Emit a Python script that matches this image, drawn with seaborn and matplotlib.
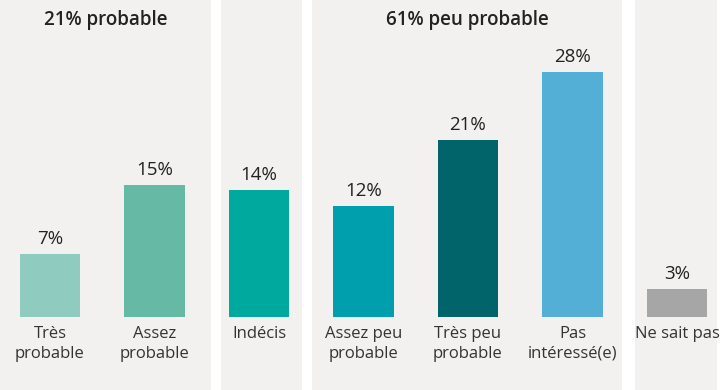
import matplotlib
import matplotlib.pyplot as plt
import pandas as pd
import seaborn as sns

matplotlib.use("Agg")

categories = ["Très\nprobable", "Assez\nprobable", "Indécis", "Assez peu\nprobable",
              "Très peu\nprobable", "Pas\nintéressé(e)", "Ne sait pas"]
heights = [7.2, 15.1, 14.5, 12.7, 20.2, 28.0, 3.2]
value_labels = ["7%", "15%", "14%", "12%", "21%", "28%", "3%"]
colors = ["#8fcbbf", "#66b9a5", "#00a99e", "#009fae", "#00646a", "#53afd5", "#a6a6a6"]

groups = ["21% probable", None, "61% peu probable", None]
# background panel edges, in pixels from the left
panel_px = [(0, 211), (221, 302), (312, 622), (635, 717)]

df = pd.DataFrame({"cat": categories, "val": heights})

sns.set_theme(style="white")
plt.rcParams["font.family"] = ["Open Sans", "DejaVu Sans"]

fig = plt.figure(figsize=(7.2, 3.9), dpi=100, facecolor="white")
ax = fig.add_axes([0, 0, 1, 1])
ax.set_facecolor("white")

sns.barplot(data=df, x="cat", y="val", hue="cat", palette=colors, legend=False,
            width=0.575, saturation=1, linewidth=0, ax=ax, zorder=2)

# pixel helpers: bar pitch ~104.5 px, first bar centred at 50 px, baseline at 317 px
pitch, x0 = 104.5, 50
px_per_unit = 8.75
to_x = lambda px: (px - x0) / pitch
ax.set_xlim(to_x(0), to_x(720))
ax.set_ylim(-73 / px_per_unit, 317 / px_per_unit)

for (l_px, r_px), title in zip(panel_px, groups):
    left, right = to_x(l_px), to_x(r_px)
    ax.axvspan(left, right, color="#f2f1ef", zorder=0, lw=0)
    if title:
        ax.text((left + right) / 2, 292 / px_per_unit, title,
                ha="center", va="baseline", fontsize=13.5, fontweight="semibold",
                color="#222222")

for i, (h, lab, cat) in enumerate(zip(heights, value_labels, categories)):
    ax.text(i, h + 10 / px_per_unit, lab, ha="center", va="baseline",
            fontsize=13.5, color="#222222")
    ax.text(i, -9 / px_per_unit, cat, ha="center", va="top", fontsize=12,
            color="#333333", linespacing=1.3)

ax.set_xlabel("")
ax.set_ylabel("")
ax.set_xticks([])
ax.set_yticks([])
for s in ax.spines.values():
    s.set_visible(False)

fig.savefig("out.png", dpi=100, facecolor="white")
